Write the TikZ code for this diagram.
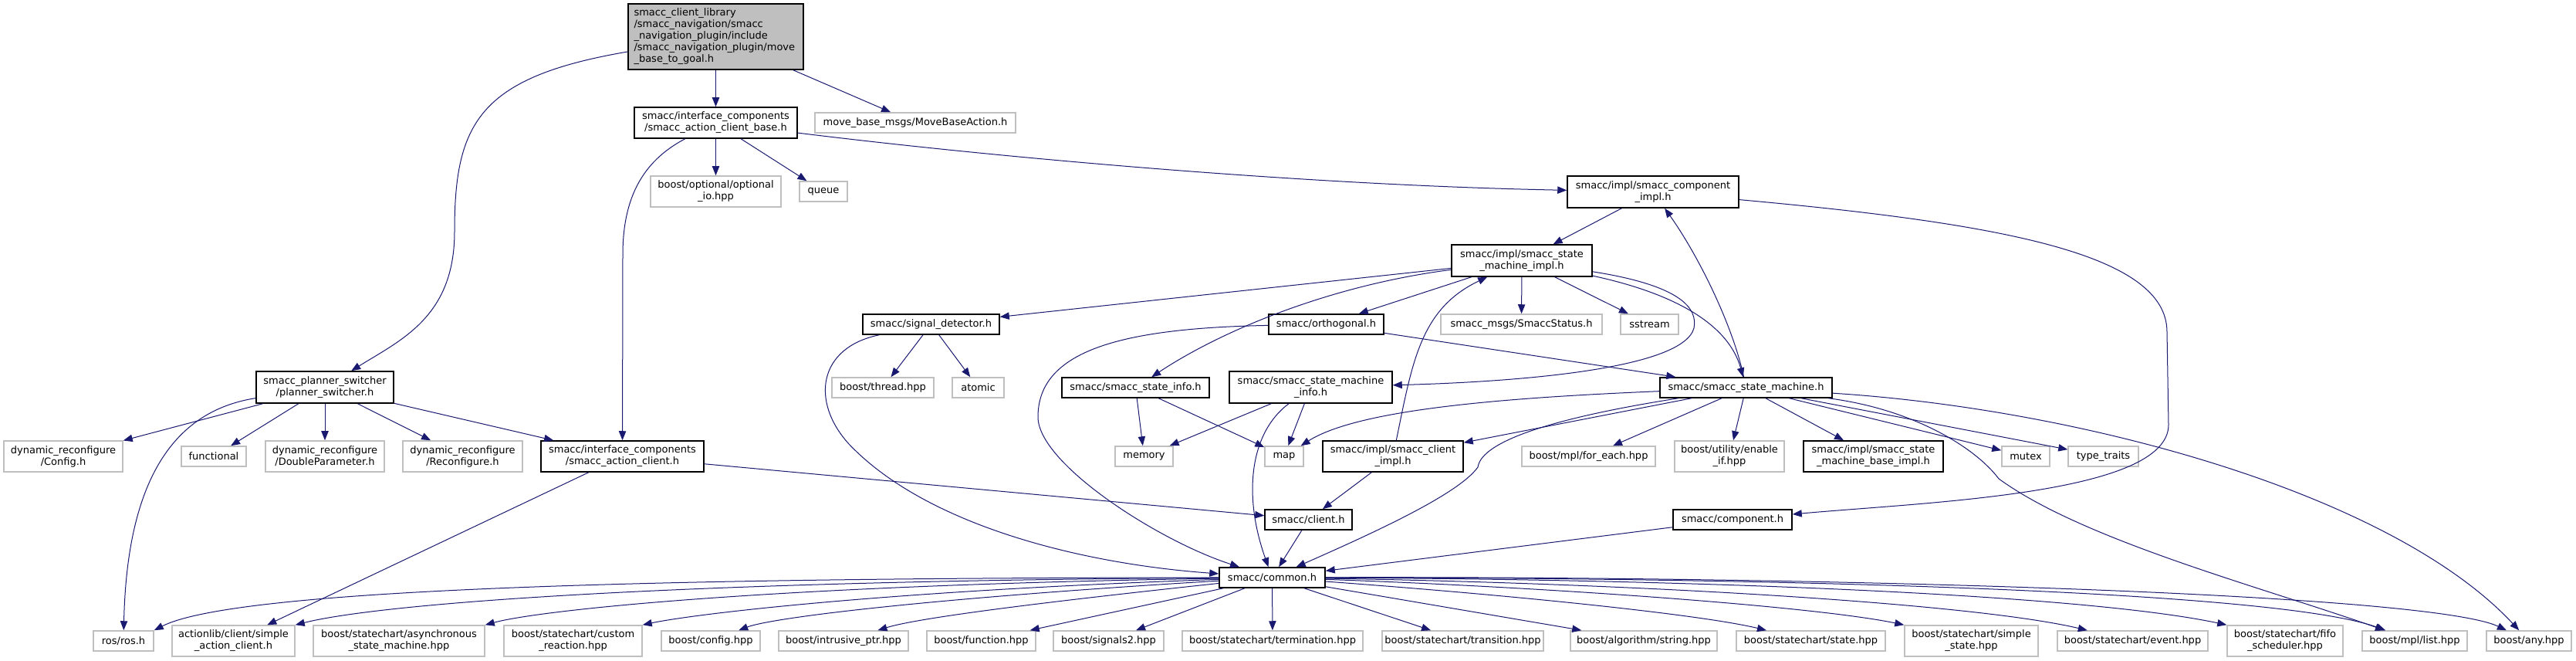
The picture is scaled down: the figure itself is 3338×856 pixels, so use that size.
\documentclass[tikz,border=0pt]{standalone}
\usepackage{fontspec}
\setmainfont{DejaVu Sans}
\usetikzlibrary{arrows.meta}
\definecolor{edgeblue}{HTML}{191970}
\definecolor{boxgrey}{HTML}{BFBFBF}

\begin{document}
\begin{tikzpicture}[x=0.3pt,y=-0.3pt,
file/.style={draw=black,fill=white,line width=0.45pt,inner sep=0pt,align=center,font=\fontsize{3.9}{4.5}\selectfont},
ext/.style={file,draw=boxgrey},
wh/.style 2 args={minimum width=#1*0.3pt,minimum height=#2*0.3pt},
arrow/.style={-{Triangle[length=3.6pt,width=2.8pt]},draw=edgeblue,line width=0.3pt}]

\useasboundingbox (0,0) rectangle (3338,856);

\node[file,fill=boxgrey,text width=63.6pt,align=left,inner xsep=2.25pt,inner ysep=1.8pt,minimum height=25.5pt] (TOP) at (927.5,47.5) {smacc\_client\_library\\/smacc\_navigation/smacc\\\_navigation\_plugin/include\\/smacc\_navigation\_plugin/move\par\centering\_base\_to\_goal.h};

\node[file,wh={211}{40}] (ACB) at (927.5,159) {smacc/interface\_components\\/smacc\_action\_client\_base.h};
\node[ext,wh={260}{26}] (MBA) at (1186,159) {move\_base\_msgs/MoveBaseAction.h};
\node[ext,wh={169}{40}] (OPT) at (927.5,248) {boost/optional/optional\\\_io.hpp};
\node[ext,wh={62}{26}] (QUE) at (1067,248) {queue};
\node[file,wh={222}{41}] (CMI) at (2142,248.5) {smacc/impl/smacc\_component\\\_impl.h};
\node[file,wh={182}{41}] (SMI) at (1972,337.5) {smacc/impl/smacc\_state\\\_machine\_impl.h};
\node[file,wh={149}{26}] (ORT) at (1718.5,420) {smacc/orthogonal.h};
\node[ext,wh={209}{26}] (STS) at (1971.5,420) {smacc\_msgs/SmaccStatus.h};
\node[ext,wh={75}{26}] (SST) at (2137.5,420) {sstream};
\node[file,wh={177}{26}] (SIG) at (1206.5,420) {smacc/signal\_detector.h};
\node[ext,wh={132}{26}] (THR) at (1144,502) {boost/thread.hpp};
\node[ext,wh={67}{26}] (ATO) at (1267.5,502) {atomic};
\node[file,wh={178}{41}] (PSW) at (421,501.5) {smacc\_planner\_switcher\\/planner\_switcher.h};
\node[file,wh={191}{26}] (SIN) at (1471.5,502) {smacc/smacc\_state\_info.h};
\node[file,wh={211}{41}] (SMN) at (1698.5,501.5) {smacc/smacc\_state\_machine\\\_info.h};
\node[file,wh={223}{26}] (SM) at (2262.5,502) {smacc/smacc\_state\_machine.h};

\node[ext,wh={154}{40}] (CFG) at (82,591) {dynamic\_reconfigure\\/Config.h};
\node[ext,wh={84}{26}] (FNC) at (277,591) {functional};
\node[ext,wh={154}{40}] (DBL) at (421,591) {dynamic\_reconfigure\\/DoubleParameter.h};
\node[ext,wh={155}{40}] (REC) at (599.5,591) {dynamic\_reconfigure\\/Reconfigure.h};
\node[file,wh={211}{40}] (AC) at (806.5,591) {smacc/interface\_components\\/smacc\_action\_client.h};
\node[ext,wh={75}{26}] (MEM) at (1482.5,591) {memory};
\node[ext,wh={50}{26}] (MAP) at (1664,591) {map};
\node[file,wh={182}{40}] (CLI) at (1805,591) {smacc/impl/smacc\_client\\\_impl.h};
\node[ext,wh={173}{26}] (FEA) at (2058.5,591) {boost/mpl/for\_each.hpp};
\node[ext,wh={142}{40}] (ENA) at (2241,591) {boost/utility/enable\\\_if.hpp};
\node[file,wh={181}{40}] (BAS) at (2427.5,591) {smacc/impl/smacc\_state\\\_machine\_base\_impl.h};
\node[ext,wh={62}{26}] (MTX) at (2625,591) {mutex};
\node[ext,wh={91}{26}] (TTR) at (2725.5,591) {type\_traits};

\node[file,wh={113}{26}] (CL) at (1695.5,673) {smacc/client.h};
\node[file,wh={154}{26}] (CMP) at (2245,673) {smacc/component.h};
\node[file,wh={137}{26}] (COM) at (1648.5,748) {smacc/common.h};

\node[ext,wh={78}{26}] (ROS) at (160,830) {ros/ros.h};
\node[ext,wh={159}{40}] (SAC) at (302.5,830) {actionlib/client/simple\\\_action\_client.h};
\node[ext,wh={222}{40}] (ASM) at (517,830) {boost/statechart/asynchronous\\\_state\_machine.hpp};
\node[ext,wh={179}{40}] (CRE) at (742.5,830) {boost/statechart/custom\\\_reaction.hpp};
\node[ext,wh={128}{26}] (BCF) at (921,830) {boost/config.hpp};
\node[ext,wh={168}{26}] (IPT) at (1093,830) {boost/intrusive\_ptr.hpp};
\node[ext,wh={141}{26}] (BFN) at (1271.5,830) {boost/function.hpp};
\node[ext,wh={143}{26}] (SG2) at (1436.5,830) {boost/signals2.hpp};
\node[ext,wh={234}{26}] (TRM) at (1649,830) {boost/statechart/termination.hpp};
\node[ext,wh={209}{26}] (TRN) at (1895.5,830) {boost/statechart/transition.hpp};
\node[ext,wh={190}{26}] (STR) at (2130,830) {boost/algorithm/string.hpp};
\node[ext,wh={193}{26}] (STA) at (2346.5,830) {boost/statechart/state.hpp};
\node[ext,wh={173}{40}] (SIM) at (2554.5,830) {boost/statechart/simple\\\_state.hpp};
\node[ext,wh={195}{26}] (EVT) at (2763.5,830) {boost/statechart/event.hpp};
\node[ext,wh={150}{40}] (FIF) at (2961,830) {boost/statechart/fifo\\\_scheduler.hpp};
\node[ext,wh={136}{26}] (LST) at (3129,830) {boost/mpl/list.hpp};
\node[ext,wh={110}{26}] (ANY) at (3277,830) {boost/any.hpp};


\draw[arrow] (TOP) .. controls (620,100) and (589,160) .. (589,300) .. controls (589,410) and (520,440) .. (PSW);

\draw[arrow] (TOP) -- (ACB);

\draw[arrow] (TOP) -- (MBA);

\draw[arrow] (ACB) -- (OPT);

\draw[arrow] (ACB) -- (QUE);

\draw[arrow] (ACB) .. controls (1300,205) and (1700,240) .. (CMI);

\draw[arrow] (ACB) .. controls (830,210) and (807,260) .. (807,330) -- (AC);

\draw[arrow] (PSW) -- (CFG);

\draw[arrow] (PSW) -- (FNC);

\draw[arrow] (PSW) -- (DBL);

\draw[arrow] (PSW) -- (REC);

\draw[arrow] (PSW) -- (AC);

\draw[arrow] (PSW) .. controls (240,530) and (165,600) .. (ROS);

\draw[arrow] (AC) -- (SAC);

\draw[arrow] (AC) -- (CL);

\draw[arrow] (CMI) -- (SMI);

\draw[arrow] (CMI) .. controls (2600,290) and (2808,330) .. (2808,430) -- (2810,550) .. controls (2810,640) and (2500,650) .. (CMP);

\draw[arrow] (SMI) -- (SIG);

\draw[arrow] (SMI) -- (ORT);

\draw[arrow] (SMI) .. controls (1720,370) and (1580,430) .. (SIN);

\draw[arrow] (SMI) .. controls (2180,370) and (2200,400) .. (2195,425) .. controls (2180,480) and (1950,495) .. (SMN);

\draw[arrow] (SMI) -- (STS);

\draw[arrow] (SMI) -- (SST);

\draw[arrow] (SMI) .. controls (2170,380) and (2240,420) .. (SM);

\draw[arrow] (SM) .. controls (2245,420) and (2200,330) .. (CMI);

\draw[arrow] (ORT) -- (SM);

\draw[arrow] (ORT) .. controls (1450,425) and (1345,455) .. (1345,540) .. controls (1345,600) and (1500,700) .. (COM);

\draw[arrow] (SIG) .. controls (1060,450) and (1050,520) .. (1100,575) .. controls (1200,680) and (1400,730) .. (COM);

\draw[arrow] (SIG) -- (THR);

\draw[arrow] (SIG) -- (ATO);

\draw[arrow] (SIN) -- (MEM);

\draw[arrow] (SIN) -- (MAP);

\draw[arrow] (SMN) -- (MEM);

\draw[arrow] (SMN) -- (MAP);

\draw[arrow] (SMN) .. controls (1620,560) and (1610,640) .. (COM);

\draw[arrow] (SM) .. controls (1950,515) and (1760,530) .. (MAP);

\draw[arrow] (SM) -- (CLI);

\draw[arrow] (SM) -- (FEA);

\draw[arrow] (SM) -- (ENA);

\draw[arrow] (SM) -- (BAS);

\draw[arrow] (SM) -- (MTX);

\draw[arrow] (SM) -- (TTR);

\draw[arrow] (SM) .. controls (2480,530) and (2560,580) .. (2590,620) .. controls (2700,700) and (2930,760) .. (LST);

\draw[arrow] (SM) .. controls (2700,530) and (3100,640) .. (ANY);

\draw[arrow] (SM) .. controls (2020,540) and (1920,570) .. (1915,605) .. controls (1890,640) and (1780,690) .. (COM);

\draw[arrow] (CLI) .. controls (1830,470) and (1840,400) .. (SMI);

\draw[arrow] (CLI) -- (CL);

\draw[arrow] (CL) -- (COM);

\draw[arrow] (CMP) -- (COM);

\draw[arrow] (COM) .. controls (800,748) and (300,765) .. (ROS.north east);

\draw[arrow] (COM) .. controls (900,752) and (500,780) .. (SAC.north east);

\draw[arrow] (COM) .. controls (1000,758) and (700,790) .. (ASM.north east);

\draw[arrow] (COM) .. controls (1150,765) and (900,795) .. (CRE.north east);

\draw[arrow] (COM) .. controls (1200,775) and (1000,800) .. (BCF);

\draw[arrow] (COM) .. controls (1350,780) and (1190,800) .. (IPT);

\draw[arrow] (COM) -- (BFN);

\draw[arrow] (COM) -- (SG2);

\draw[arrow] (COM) -- (TRM);

\draw[arrow] (COM) -- (TRN);

\draw[arrow] (COM) -- (STR);

\draw[arrow] (COM) .. controls (1950,770) and (2200,795) .. (STA);

\draw[arrow] (COM) .. controls (2000,760) and (2350,785) .. (SIM.north west);

\draw[arrow] (COM) .. controls (2100,755) and (2550,780) .. (EVT);

\draw[arrow] (COM) .. controls (2200,750) and (2700,770) .. (FIF.north west);

\draw[arrow] (COM) .. controls (2300,748) and (2950,765) .. (LST);

\draw[arrow] (COM) .. controls (2400,746) and (3150,770) .. (ANY);

\end{tikzpicture}
\end{document}
